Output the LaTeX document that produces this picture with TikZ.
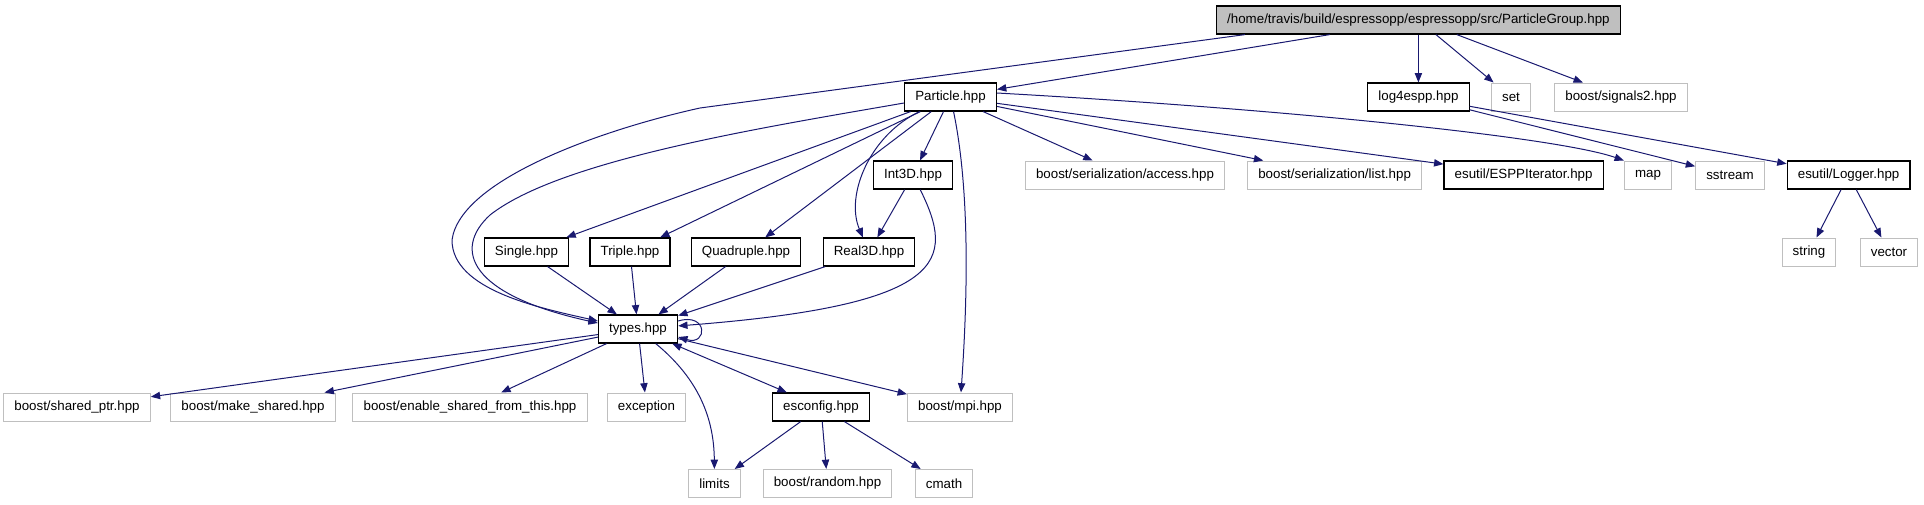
\documentclass[tikz,border=0pt]{standalone}
\usepackage{fontspec}
\setmainfont{Liberation Sans}
\usetikzlibrary{arrows.meta}
\definecolor{edgeblue}{HTML}{191970}
\definecolor{lightframe}{HTML}{BFBFBF}
\definecolor{headfill}{HTML}{BFBFBF}
\begin{document}
\begin{tikzpicture}[x=0.75pt,y=-0.75pt,
    every node/.style={font=\fontsize{10}{12}\selectfont},
    >={Triangle[length=7pt,width=5.5pt]},
    file/.style={draw=black,line width=0.9pt,fill=white,minimum height=21pt,inner xsep=8pt,inner ysep=0pt},
    sysfile/.style={file,draw=lightframe,line width=0.75pt},
    rootfile/.style={file,fill=headfill},
    link/.style={->,edgeblue,line width=0.75pt}]
    \useasboundingbox (0,0) rectangle (1924,504);
    \node[rootfile] (pg) at (1418.4,20) {/home/travis/build/espressopp/espressopp/src/ParticleGroup.hpp};
    \node[file] (particle) at (950.5,97) {Particle.hpp};
    \node[file] (log4espp) at (1418.4,97) {log4espp.hpp};
    \node[sysfile] (set) at (1511,97) {set};
    \node[sysfile] (signals) at (1621,97) {boost/signals2.hpp};
    \node[file] (int3d) at (913,175) {Int3D.hpp};
    \node[sysfile] (access) at (1125,175) {boost/serialization/access.hpp};
    \node[sysfile] (list) at (1334.6,175) {boost/serialization/list.hpp};
    \node[file] (iterator) at (1523.6,175) {esutil/ESPPIterator.hpp};
    \node[sysfile] (map) at (1648,175) {map};
    \node[sysfile] (sstream) at (1730,175) {sstream};
    \node[file] (logger) at (1848.6,175) {esutil/Logger.hpp};
    \node[file] (single) at (526.5,252) {Single.hpp};
    \node[file] (triple) at (630,252) {Triple.hpp};
    \node[file] (quadruple) at (746,252) {Quadruple.hpp};
    \node[file] (real3d) at (869,252) {Real3D.hpp};
    \node[sysfile] (string) at (1809,252) {string};
    \node[sysfile] (vector) at (1889,252) {vector};
    \node[file] (types) at (638,329) {types.hpp};
    \node[sysfile] (sharedptr) at (77,407) {boost/shared\_ptr.hpp};
    \node[sysfile] (makeshared) at (253,407) {boost/make\_shared.hpp};
    \node[sysfile] (enableshared) at (470,407) {boost/enable\_shared\_from\_this.hpp};
    \node[sysfile] (exception) at (646.5,407) {exception};
    \node[file] (esconfig) at (821,407) {esconfig.hpp};
    \node[sysfile] (mpi) at (960,407) {boost/mpi.hpp};
    \node[sysfile] (limits) at (714.5,483.5) {limits};
    \node[sysfile] (random) at (827.5,483.5) {boost/random.hpp};
    \node[sysfile] (cmath) at (944,483.5) {cmath};
    \draw[link] ([xshift=21.75pt]pg.south west) -- (700,108) .. controls (600,130) and (460,180) .. (452,240) .. controls (452,290) and (540,308) .. ([yshift=6pt]types.west);
    \draw[link] (pg) -- (particle);
    \draw[link] (pg) -- (log4espp);
    \draw[link] (pg) -- (set);
    \draw[link] (pg) -- (signals);
    \draw[link] ([yshift=-4.5pt]particle.west) .. controls (760,128) and (560,160) .. (490,215) .. controls (452,250) and (470,295) .. ([yshift=4.5pt]types.west);
    \draw[link] (particle) -- (single);
    \draw[link] (particle) -- (triple);
    \draw[link] (particle) -- (quadruple);
    \draw[link] (particle) .. controls (870,135) and (845,195) .. (real3d);
    \draw[link] (particle) -- (int3d);
    \draw[link] (particle) .. controls (972,200) and (966,320) .. (mpi);
    \draw[link] (particle) -- (access);
    \draw[link] (particle) -- (list);
    \draw[link] (particle) -- (iterator);
    \draw[link] ([yshift=3pt]particle.east) .. controls (1300,110) and (1560,138) .. (map.north west);
    \draw[link] (log4espp) -- (sstream);
    \draw[link] (log4espp) -- (logger);
    \draw[link] (logger) -- (string);
    \draw[link] (logger) -- (vector);
    \draw[link] (int3d) -- (real3d);
    \draw[link] (int3d) .. controls (955,260) and (950,305) .. (types);
    \draw[link] (single) -- (types);
    \draw[link] (triple) -- (types);
    \draw[link] (quadruple) -- (types);
    \draw[link] (real3d) -- (types);
    \draw[link] ([yshift=6pt]types.east) .. controls (708,312) and (708,346) .. ([yshift=-6pt]types.east);
    \draw[link] (types) -- (sharedptr);
    \draw[link] (types) -- (makeshared);
    \draw[link] (types) -- (enableshared);
    \draw[link] (types) -- (exception);
    \draw[link] (types) .. controls (700,380) and (714,420) .. (limits);
    \draw[link,<->] (types) -- (esconfig);
    \draw[link] (types) -- (mpi);
    \draw[link] (esconfig) -- (limits);
    \draw[link] (esconfig) -- (random);
    \draw[link] (esconfig) -- (cmath);
\end{tikzpicture}
\end{document}
